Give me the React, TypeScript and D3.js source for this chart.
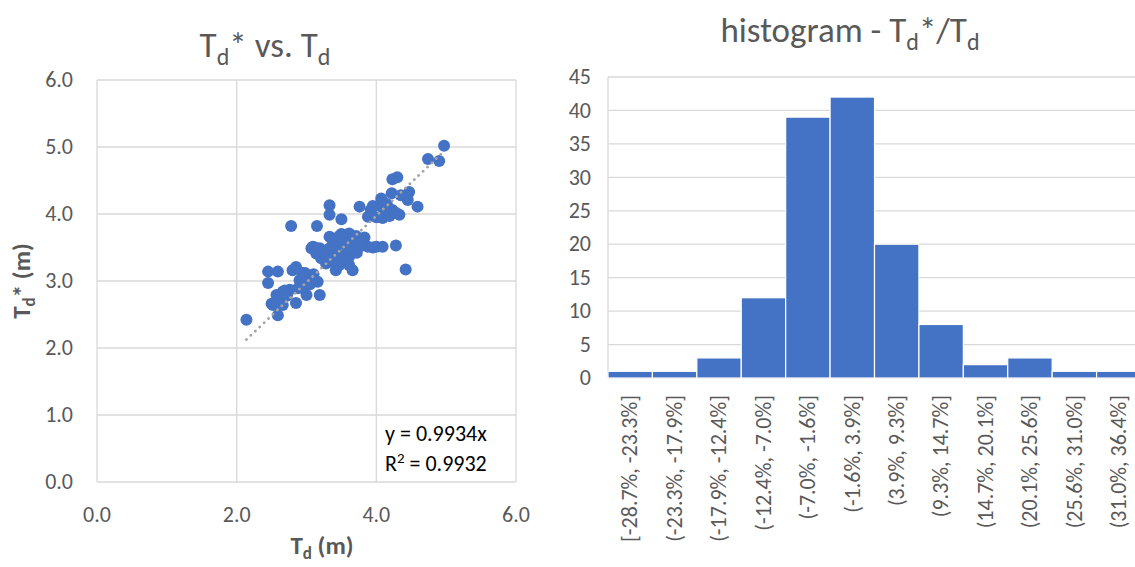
import React from "react";
import * as d3 from "d3";

// scatter: Td (m) vs Td* (m)
const tdValues = [
  4.97, 4.74, 4.9, 4.23, 4.3, 4.47, 4.45, 4.59, 4.07, 4.22, 4.35,
  3.76, 3.33, 3.33, 3.5, 3.92, 4.07, 4.14, 4.23, 4.33, 3.88, 4.0, 4.09, 4.19, 4.28, 3.95, 4.15,
  3.07, 3.19, 3.33, 3.88, 4.0, 4.09, 4.28, 3.12, 3.95,
  4.42, 2.78, 3.15,
  3.33, 3.47, 3.61, 3.71, 3.83, 3.38, 3.52, 3.66, 3.76, 3.42, 3.57, 3.23, 3.47, 3.61,
  3.21, 3.28, 3.33, 3.42, 3.61, 3.66, 3.47,
  3.55, 3.7, 3.4, 3.25, 3.62, 3.78, 3.5, 3.45, 3.35, 3.58, 3.72,
  2.45, 2.59, 2.45, 2.85, 2.8, 3.16, 3.19, 2.14, 2.57, 2.52, 2.59, 2.85, 3.0, 2.66, 2.76, 2.88,
  2.94, 3.14, 3.09, 2.9, 2.69, 2.62, 2.72, 2.95, 3.05, 3.1, 2.98, 3.05, 2.5, 2.66,
];
const tdStarValues = [
  5.02, 4.82, 4.79, 4.52, 4.55, 4.33, 4.21, 4.11, 4.23, 4.31, 4.28,
  4.11, 4.13, 3.99, 3.92, 4.06, 4.11, 4.01, 4.06, 3.99, 3.96, 3.95, 3.94, 3.97, 4.02, 4.12, 4.15,
  3.49, 3.49, 3.49, 3.51, 3.51, 3.51, 3.53, 3.5, 3.5,
  3.17, 3.82, 3.82,
  3.66, 3.67, 3.71, 3.67, 3.65, 3.56, 3.56, 3.59, 3.51, 3.44, 3.41, 3.36, 3.34, 3.36,
  3.34, 3.26, 3.29, 3.16, 3.24, 3.16, 3.24,
  3.62, 3.55, 3.6, 3.45, 3.48, 3.62, 3.7, 3.3, 3.4, 3.3, 3.42,
  3.14, 3.14, 2.97, 3.21, 3.16, 2.99, 2.79, 2.42, 2.79, 2.64, 2.49, 2.67, 2.79, 2.84, 2.87, 2.89,
  3.12, 3.41, 3.51, 3.01, 2.86, 2.7, 2.78, 2.9, 3.05, 3.1, 3.12, 2.95, 2.66, 2.64,
];
const slope = 0.9934;
const rSquared = 0.9932;
const scatterTicks = [0, 1, 2, 3, 4, 5, 6];
const scatterXTicks = [0, 2, 4, 6];

// histogram of Td*/Td
const binLabels = [
  "[-28.7%, -23.3%]", "(-23.3%, -17.9%]", "(-17.9%, -12.4%]", "(-12.4%, -7.0%]",
  "(-7.0%, -1.6%]", "(-1.6%, 3.9%]", "(3.9%, 9.3%]", "(9.3%, 14.7%]",
  "(14.7%, 20.1%]", "(20.1%, 25.6%]", "(25.6%, 31.0%]", "(31.0%, 36.4%]",
];
const binCounts = [1, 1, 3, 12, 39, 42, 20, 8, 2, 3, 1, 1];
const histTicks = [0, 5, 10, 15, 20, 25, 30, 35, 40, 45];

const FONT = "Carlito, Calibri, 'Noto Sans', sans-serif";
const GREY = "#595959";
const GRID = "#D9D9D9";
const BLUE = "#4472C4";

const App = () => {
  const W = 1135;
  const H = 567;

  // left chart
  const x = d3.scaleLinear().domain([0, 6]).range([97, 516]);
  const y = d3.scaleLinear().domain([0, 6]).range([482, 80]);
  const pts = tdValues.map((v, i) => [v, tdStarValues[i]]);
  const xMin = d3.min(tdValues) as number;
  const xMax = d3.max(tdValues) as number;

  // right chart
  const hx = d3.scaleBand().domain(binLabels).range([608, 1141]).padding(0);
  const hy = d3.scaleLinear().domain([0, 45]).range([378, 77]);

  return (
    <svg width={W} height={H} style={{ position: "absolute", left: 0, top: 0, fontFamily: FONT }}>
      <rect width={W} height={H} fill="#fff" />

      {/* ---- scatter ---- */}
      <text x={265} y={57} textAnchor="middle" fontSize={35} fill={GREY}>
        <tspan>T</tspan>
        <tspan dy={8} fontSize={24}>d</tspan>
        <tspan dy={-8}>* vs. T</tspan>
        <tspan dy={8} fontSize={24}>d</tspan>
      </text>
      {scatterTicks.map((t) => (
        <g key={"sy" + t}>
          <line x1={x(0)} x2={x(6)} y1={y(t)} y2={y(t)} stroke={GRID} strokeWidth={1.3} />
          <text x={73} y={y(t)} dy="0.33em" textAnchor="end" fontSize={22} fill={GREY}>
            {t.toFixed(1)}
          </text>
        </g>
      ))}
      {scatterXTicks.map((t) => (
        <g key={"sx" + t}>
          <line x1={x(t)} x2={x(t)} y1={y(0)} y2={y(6)} stroke={GRID} strokeWidth={1.3} />
          <text x={x(t)} y={522} textAnchor="middle" fontSize={22} fill={GREY}>
            {t.toFixed(1)}
          </text>
        </g>
      ))}
      {pts.map(([a, b], i) => (
        <circle key={i} cx={x(a)} cy={y(b)} r={6} fill={BLUE} />
      ))}
      <line
        x1={x(xMin)} y1={y(xMin * slope)} x2={x(xMax)} y2={y(xMax * slope)}
        stroke="#A5A5A5" strokeWidth={2.8} strokeDasharray="0.1 6" strokeLinecap="round"
      />
      <text x={385} y={441} fontSize={22} fill="#000">y = {slope}x</text>
      <text x={385} y={471} fontSize={22} fill="#000">
        R<tspan dy={-8} fontSize={15}>2</tspan><tspan dy={8}> = {rSquared}</tspan>
      </text>
      <text x={322} y={554} textAnchor="middle" fontSize={25} fontWeight="bold" fill={GREY}>
        <tspan>T</tspan>
        <tspan dy={5} fontSize={17}>d</tspan>
        <tspan dy={-5}> (m)</tspan>
      </text>
      <text transform={`translate(30,${(y(0) + y(6)) / 2}) rotate(-90)`} textAnchor="middle"
        fontSize={25} fontWeight="bold" fill={GREY}>
        <tspan>T</tspan>
        <tspan dy={5} fontSize={17}>d</tspan>
        <tspan dy={-5}>* (m)</tspan>
      </text>

      {/* ---- histogram ---- */}
      <text x={850} y={42} textAnchor="middle" fontSize={35} fill={GREY}>
        <tspan>histogram - T</tspan>
        <tspan dy={8} fontSize={24}>d</tspan>
        <tspan dy={-8}>*/T</tspan>
        <tspan dy={8} fontSize={24}>d</tspan>
      </text>
      {histTicks.map((t) => (
        <g key={"hy" + t}>
          <line x1={608} x2={W} y1={hy(t)} y2={hy(t)} stroke={GRID} strokeWidth={1.3} />
          <text x={591} y={hy(t)} dy="0.33em" textAnchor="end" fontSize={22} fill={GREY}>
            {t}
          </text>
        </g>
      ))}
      <line x1={608} x2={608} y1={hy(0)} y2={hy(45)} stroke={GRID} strokeWidth={1.3} />
      {binLabels.map((lab, i) => (
        <g key={lab}>
          <rect
            x={hx(lab) as number} y={hy(binCounts[i])}
            width={hx.bandwidth()} height={hy(0) - hy(binCounts[i])}
            fill={BLUE} stroke="#fff" strokeWidth={1.2}
          />
          <text
            transform={`translate(${(hx(lab) as number) + hx.bandwidth() / 2},395) rotate(-90)`}
            dy="0.33em" textAnchor="end" fontSize={22} fill={GREY}
          >
            {lab}
          </text>
        </g>
      ))}
    </svg>
  );
};

export default App;
